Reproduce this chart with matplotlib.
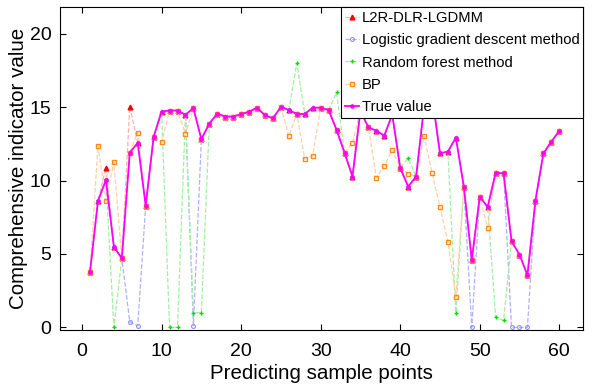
import numpy as np
import matplotlib.pyplot as plt

plt.rcParams['font.family'] = ['Liberation Sans', 'DejaVu Sans']

# sample index 1..60
sample_idx = np.arange(1, 61)

true_value = [3.79, 8.61, 10.04, 5.50, 4.70, 11.90, 12.58, 8.29, 12.99, 14.70,
              14.77, 14.77, 14.49, 14.93, 12.82, 13.88, 14.56, 14.36, 14.36, 14.53,
              14.69, 14.97, 14.44, 14.24, 15.02, 14.81, 14.54, 14.53, 14.97, 14.96,
              14.81, 13.45, 11.90, 10.27, 14.75, 13.62, 13.40, 13.06, 14.50, 10.88,
              9.59, 10.27, 15.00, 15.80, 11.86, 11.97, 12.93, 9.59, 4.59, 8.90,
              8.20, 10.54, 10.49, 5.86, 4.96, 3.56, 8.61, 11.85, 12.64, 13.38]

# predictions that differ from the true value (sample -> value)
l2r_diff = {3: 10.88, 6: 15.04}
logistic_diff = {6: 0.38, 7: 0.11, 14: 0.11, 49: 0.0, 54: 0.0, 55: 0.0, 56: 0.0}
forest_diff = {4: 0.0, 11: 0.0, 12: 0.0, 14: 1.0, 15: 1.0, 27: 18.0, 32: 16.0,
               41: 11.52, 47: 1.0, 52: 0.72, 53: 0.47}
bp_diff = {2: 12.38, 3: 8.63, 4: 11.25, 7: 13.27, 10: 12.61, 13: 13.16,
           26: 13.01, 28: 11.45, 29: 11.70, 34: 12.58, 37: 10.2, 38: 11.0,
           39: 12.09, 41: 10.47, 43: 13.04, 44: 10.52, 45: 8.2, 46: 5.85,
           47: 2.09, 51: 6.79}


def build(diff):
    vals = list(true_value)
    for k, v in diff.items():
        vals[k - 1] = v
    return vals


l2r = build(l2r_diff)
logistic = build(logistic_diff)
forest = build(forest_diff)
bp = build(bp_diff)

fig = plt.figure(figsize=(5.92, 3.86), dpi=100)
ax = fig.add_axes([0.101, 0.145, 0.884, 0.836])

ax.plot(sample_idx, l2r, '--', color='#ffb0b0', lw=0.9, marker='^', ms=3.4,
        mfc='#ff0000', mec='#ff0000', label='L2R-DLR-LGDMM')
ax.plot(sample_idx, logistic, '--', color='#b0b0ff', lw=0.9, marker='o', ms=2.8,
        mfc='none', mec='#9090ff', mew=0.8, label='Logistic gradient descent method')
ax.plot(sample_idx, forest, '--', color='#a0f0a0', lw=0.9, marker='+', ms=3,
        mec='#00e000', mew=1.0, label='Random forest method')
ax.plot(sample_idx, bp, '--', color='#ffd0a8', lw=0.9, marker='s', ms=2.6,
        mfc='none', mec='#ff8c1a', mew=1.0, label='BP')
ax.plot(sample_idx, true_value, '-', color='#ff00ff', lw=1.3, marker='o', ms=2.3,
        mfc='#ff00ff', mec='#ff00ff', label='True value')

ax.set_xlim(-2.8, 63)
ax.set_ylim(-0.18, 21.8)
ax.set_xticks([0, 10, 20, 30, 40, 50, 60])
ax.set_yticks([0, 5, 10, 15, 20])
ax.tick_params(direction='in', top=True, right=True, labelsize=14, length=4)
ax.tick_params(axis='x', pad=9)
ax.tick_params(axis='y', pad=6)
ax.set_xlabel('Predicting sample points', fontsize=14.8, labelpad=3)
ax.set_ylabel('Comprehensive indicator value', fontsize=14.8, labelpad=1)

leg = ax.legend(loc='upper right', fontsize=10.6, borderaxespad=0, fancybox=False,
                framealpha=1, edgecolor='black', handlelength=1.0,
                handletextpad=0.15, labelspacing=0.56, borderpad=0.25)
leg.get_frame().set_linewidth(0.8)

fig.savefig('out.png', dpi=100)
